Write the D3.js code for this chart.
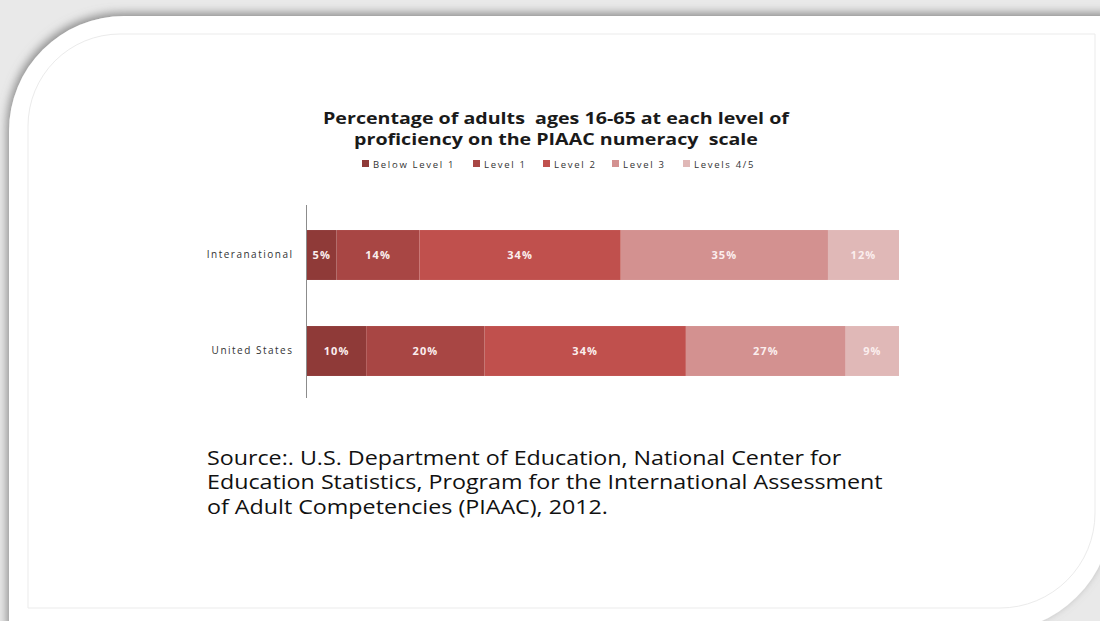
<!DOCTYPE html>
<html>
<head>
<meta charset="utf-8">
<script src="https://cdn.jsdelivr.net/npm/d3@7"></script>
<style>
  html, body { margin: 0; padding: 0; background: #ffffff; }
  svg { display: block; }
</style>
</head>
<body>
<div id="chart"></div>
<script>
(function() {
    let w = 1100;
    let h = 621;

    // data
    let categories = ["Interanational", "United States"];
    let levels = ["Below Level 1", "Level 1", "Level 2", "Level 3", "Levels 4/5"];
    let international = [5, 14, 34, 35, 12];
    let unitedStates = [10, 20, 34, 27, 9];
    let colors = ["#8f3a38", "#a84644", "#c0504d", "#d39190", "#e0b8b7"];
    let titleLines = ["Percentage of adults  ages 16-65 at each level of",
                      "proficiency on the PIAAC numeracy  scale"];
    let sourceLines = ["Source:. U.S. Department of Education, National Center for",
                       "Education Statistics, Program for the International Assessment",
                       "of Adult Competencies (PIAAC), 2012."];

    let svg = d3.select("#chart")
        .append("svg")
        .attr("width", w)
        .attr("height", h);

    let defs = svg.append("defs");
    let shadow = defs.append("filter")
        .attr("id", "shadow")
        .attr("x", "-10%").attr("y", "-10%")
        .attr("width", "120%").attr("height", "120%");
    shadow.append("feDropShadow")
        .attr("dx", -2).attr("dy", -3)
        .attr("stdDeviation", 5)
        .attr("flood-color", "#7a7a7a")
        .attr("flood-opacity", 0.85);

    // slide background + card with rounded diagonal corners
    svg.append("rect")
        .attr("width", w).attr("height", h)
        .attr("fill", "#e9e9e9");

    let cardPath = (x0, y0, x1, y1, r1, r2) => {
        let p = d3.path();
        p.moveTo(x0 + r1, y0);
        p.lineTo(x1, y0);
        p.lineTo(x1, y1 - r2);
        p.arcTo(x1, y1, x1 - r2, y1, r2);
        p.lineTo(x0, y1);
        p.lineTo(x0, y0 + r1);
        p.arcTo(x0, y0, x0 + r1, y0, r1);
        p.closePath();
        return p.toString();
    };

    svg.append("path")
        .attr("d", cardPath(9, 16, 1112, 632, 115, 120))
        .attr("fill", "#ffffff")
        .attr("filter", "url(#shadow)");

    svg.append("path")
        .attr("d", cardPath(28, 34, 1095, 608, 92, 95))
        .attr("fill", "none")
        .attr("stroke", "#ebebeb")
        .attr("stroke-width", 1);

    // title (the original slide text is stretched horizontally)
    svg.append("g")
        .attr("transform", "translate(556,0) scale(1.19,1)")
        .selectAll("text")
        .data(titleLines)
        .enter()
        .append("text")
        .attr("x", 0)
        .attr("y", (d, i) => 124 + i * 21.5)
        .attr("text-anchor", "middle")
        .attr("font-family", "'Open Sans', sans-serif")
        .attr("font-weight", "bold")
        .attr("font-size", 16.5)
        .attr("fill", "#1a1a1a")
        .style("white-space", "pre")
        .text((d) => d);

    // legend
    let legendX = [362, 473, 543, 612, 683];
    let legend = svg.append("g")
        .selectAll("g")
        .data(levels)
        .enter()
        .append("g")
        .attr("transform", (d, i) => "translate(" + legendX[i] + ",164)");
    legend.append("rect")
        .attr("x", 0).attr("y", -4)
        .attr("width", 7).attr("height", 7)
        .attr("fill", (d, i) => colors[i]);
    legend.append("text")
        .attr("x", 11)
        .attr("y", 3.5)
        .attr("font-family", "'Open Sans', sans-serif")
        .attr("font-size", 9.5)
        .attr("letter-spacing", 1.7)
        .attr("fill", "#333")
        .text((d) => d);

    // scales
    let x = d3.scaleLinear()
        .domain([0, 100])
        .range([307, 899]);

    let y = d3.scaleBand()
        .domain(categories)
        .range([207, 399])
        .paddingInner(0.48)
        .paddingOuter(0.24);

    let rows = [international, unitedStates].map((vals, r) => {
        let acc = 0;
        return vals.map((v, i) => {
            let seg = {cat: categories[r], level: i, value: v, start: acc};
            acc += v;
            return seg;
        });
    });

    let rowG = svg.append("g")
        .selectAll("g")
        .data(rows)
        .enter()
        .append("g");

    rowG.selectAll("rect")
        .data((d) => d)
        .enter()
        .append("rect")
        .attr("x", (d) => x(d.start))
        .attr("y", (d) => y(d.cat))
        .attr("width", (d) => x(d.start + d.value) - x(d.start))
        .attr("height", y.bandwidth())
        .attr("fill", (d) => colors[d.level]);

    rowG.selectAll("text")
        .data((d) => d)
        .enter()
        .append("text")
        .attr("x", (d) => x(d.start + d.value / 2))
        .attr("y", (d) => y(d.cat) + y.bandwidth() / 2 + 4)
        .attr("text-anchor", "middle")
        .attr("font-family", "'Open Sans', sans-serif")
        .attr("font-weight", "bold")
        .attr("font-size", 11)
        .attr("letter-spacing", 1.1)
        .attr("fill", "#fbeeee")
        .text((d) => d.value + "%");

    // category axis
    let axis = svg.append("g")
        .attr("transform", "translate(306.5,0)")
        .call(d3.axisLeft(y).tickSize(0).tickPadding(13));
    axis.select(".domain")
        .attr("stroke", "#8c8c8c")
        .attr("d", "M0," + 205 + "V" + 398);
    axis.selectAll("text")
        .attr("font-family", "'Open Sans', sans-serif")
        .attr("font-size", 10)
        .attr("letter-spacing", 1.5)
        .attr("fill", "#333");

    // source note
    svg.append("g")
        .attr("transform", "translate(207,0) scale(1.135,1)")
        .selectAll("text")
        .data(sourceLines)
        .enter()
        .append("text")
        .attr("x", 0)
        .attr("y", (d, i) => 465 + i * 24.5)
        .attr("font-family", "'Open Sans', sans-serif")
        .attr("font-size", 20.5)
        .attr("fill", "#111")
        .text((d) => d);
})();
</script>
</body>
</html>
